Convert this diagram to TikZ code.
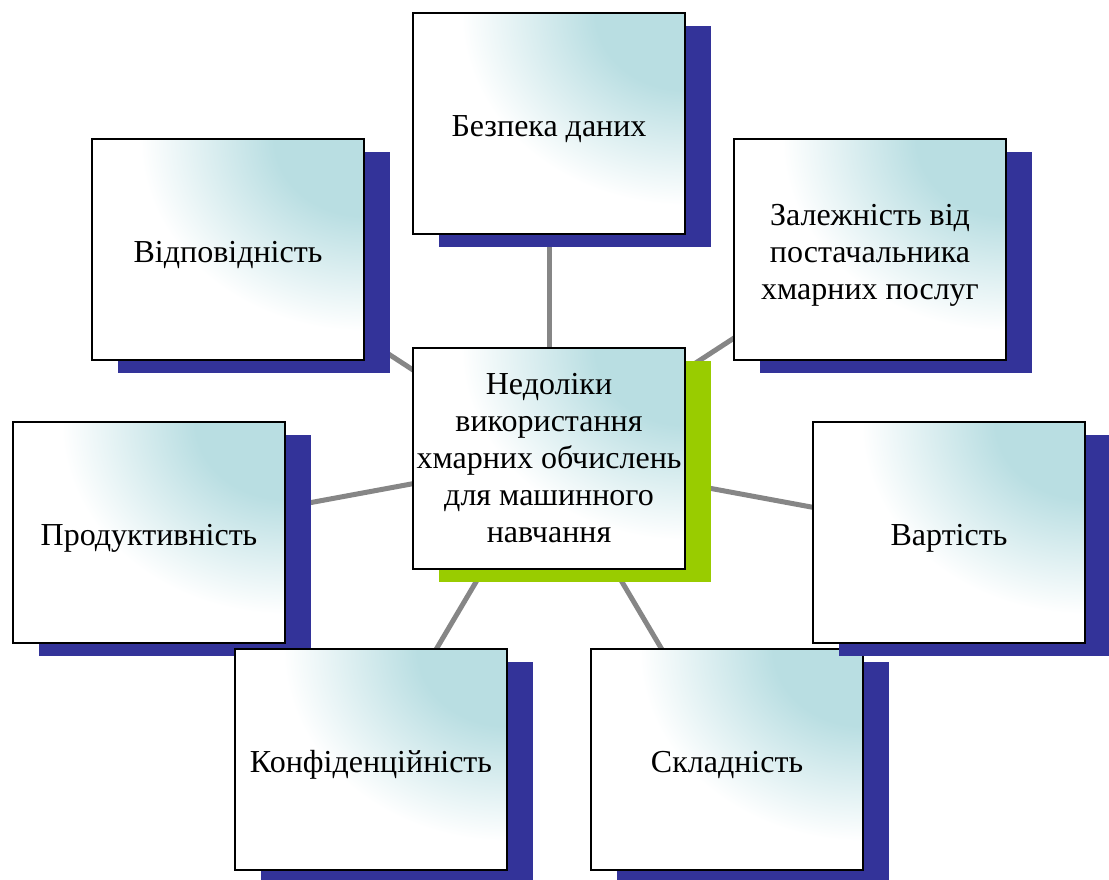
\documentclass[tikz,border=0pt]{standalone}
\usepackage{fontspec}
\setmainfont{Liberation Serif}
\usetikzlibrary{math,shadows,backgrounds}

\definecolor{boxteal}{RGB}{185,222,226}
\definecolor{shadowblue}{RGB}{51,51,153}
\definecolor{shadowgreen}{RGB}{153,204,0}
\definecolor{linegray}{RGB}{134,134,134}

\pgfdeclareradialshading{boxglow}{\pgfpoint{0bp}{0bp}}{color(0bp)=(boxteal); color(8bp)=(boxteal); color(20bp)=(white); color(50bp)=(white)}

\tikzset{
	issue/.style={draw=black, line width=1.5pt, fill=white, inner sep=0pt, align=center,
		minimum width=272pt, minimum height=221pt,
		font=\fontsize{32}{37}\selectfont,
		path picture={\shade[shading=boxglow] (path picture bounding box.north east) ellipse (280pt and 240pt);},
		drop shadow={shadow xshift=26pt, shadow yshift=-13pt, fill=#1, opacity=1}},
	issue/.default=shadowblue,
	oneline/.style={text height=26pt, text depth=0pt},
	link/.style={draw=linegray, line width=5pt}
}

\begin{document}
\begin{tikzpicture}[x=1pt, y=-1pt]
	\tikzmath{
		\midX = 549;
		\midY = 458.5;
	}
	\useasboundingbox (0,0) rectangle (1109,880);

	\node[issue, oneline] (compliance) at (228,249.5) {Відповідність};
	\node[issue, oneline] (data) at (\midX,123.5) {Безпека даних};
	\node[issue] (vendor) at (870,249.5) {\rule{0pt}{32pt}Залежність від\\постачальника\\хмарних послуг};
	\node[issue=shadowgreen] (core) at (\midX,\midY) {Недоліки\\використання\\хмарних обчислень\\для машинного\\навчання};
	\node[issue, oneline] (perf) at (149,532.5) {Продуктивність};
	\node[issue, oneline] (privacy) at (371,759.5) {Конфіденційність};
	\node[issue, oneline] (complexity) at (727,759.5) {Складність};
	\node[issue, oneline] (cost) at (949,532.5) {Вартість};

	\begin{scope}[on background layer]
		\foreach \other in {compliance,data,vendor,perf,privacy,complexity,cost}
			\draw[link] (core.center) -- (\other.center);
	\end{scope}
\end{tikzpicture}
\end{document}
